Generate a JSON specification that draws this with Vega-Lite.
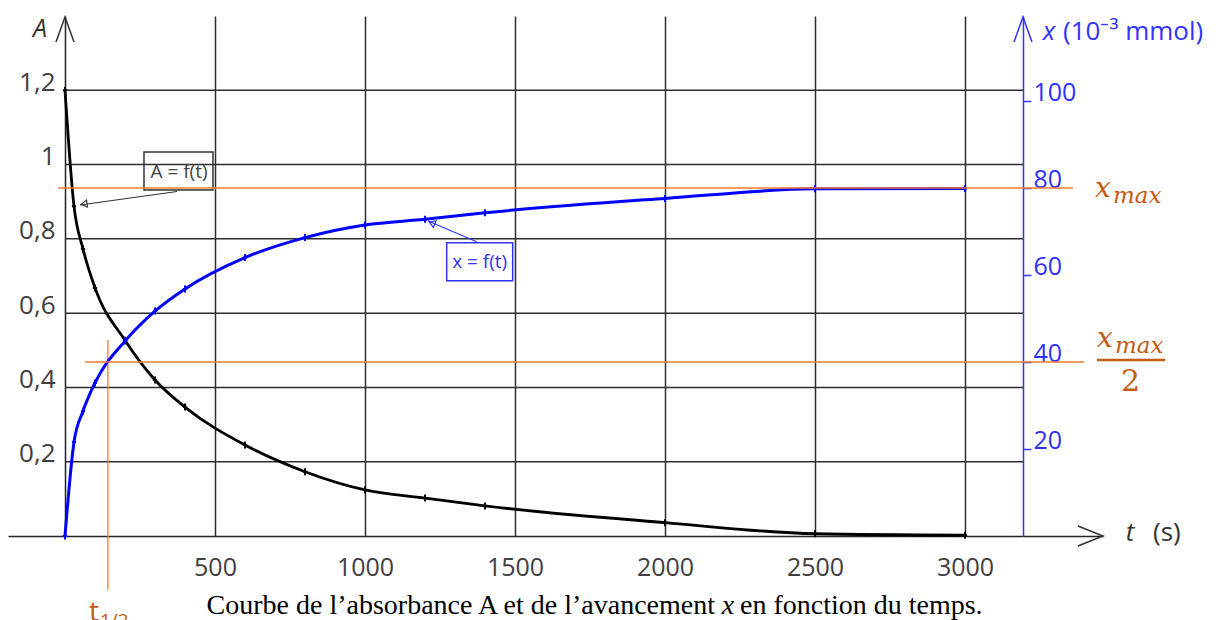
{
  "$schema": "https://vega.github.io/schema/vega-lite/v6.json",
  "autosize": {"type": "none"},
  "padding": {"left": 8, "top": 16, "right": 119, "bottom": 84},
  "width": 1095,
  "height": 520,
  "config": {"view": {"stroke": null}, "background": "white"},
  "data": {"values": [{}]},
  "datasets": {
    "absorbance": [
      {"t": 0, "A": 1.2}, {"t": 30, "A": 0.888}, {"t": 60, "A": 0.773}, {"t": 100, "A": 0.668},
      {"t": 200, "A": 0.527}, {"t": 300, "A": 0.42}, {"t": 400, "A": 0.347}, {"t": 600, "A": 0.245},
      {"t": 800, "A": 0.173}, {"t": 1000, "A": 0.124}, {"t": 1200, "A": 0.102}, {"t": 1400, "A": 0.081},
      {"t": 2000, "A": 0.036}, {"t": 2500, "A": 0.006}, {"t": 3000, "A": 0.002}
    ],
    "avancement": [
      {"t": 0, "X": 0}, {"t": 30, "X": 21.6}, {"t": 60, "X": 28.7}, {"t": 100, "X": 35.2},
      {"t": 200, "X": 44.8}, {"t": 300, "X": 51.7}, {"t": 400, "X": 56.8}, {"t": 600, "X": 64.0},
      {"t": 800, "X": 68.6}, {"t": 1000, "X": 71.5}, {"t": 1200, "X": 72.8}, {"t": 1400, "X": 74.3},
      {"t": 2000, "X": 77.6}, {"t": 2500, "X": 79.8}, {"t": 3000, "X": 79.9}
    ],
    "gridA": [{"A": 0.2}, {"A": 0.4}, {"A": 0.6}, {"A": 0.8}, {"A": 1.0}, {"A": 1.2}]
  },
  "layer": [
    {
      "layer": [
        {
          "data": {"name": "gridA"},
          "mark": {"type": "rule", "color": "#2e2e2e", "strokeWidth": 1.5},
          "encoding": {
            "x": {"datum": 0, "type": "quantitative", "scale": {"domain": [-190, 3460]}},
            "x2": {"datum": 3193.3},
            "y": {"field": "A", "type": "quantitative", "scale": {"domain": [0, 1.4]}}
          }
        },
        {
          "data": {"name": "absorbance"},
          "mark": {"type": "line", "color": "#000000", "strokeWidth": 2.8, "interpolate": "monotone"},
          "encoding": {
            "x": {"field": "t", "type": "quantitative", "scale": {"domain": [-190, 3460]},
              "axis": {"title": null, "orient": "bottom", "values": [500, 1000, 1500, 2000, 2500, 3000], "format": "d",
                "grid": true, "gridColor": "#2e2e2e", "gridWidth": 1.5, "gridOpacity": 1,
                "ticks": false, "tickSize": 0, "domain": true, "domainColor": "#222222", "domainWidth": 1.5,
                "labelFont": "Open Sans", "labelFontSize": 25, "labelColor": "#404040",
                "labelBaseline": "alphabetic", "labelPadding": 39, "labelOverlap": false, "labelFlush": false}},
            "y": {"field": "A", "type": "quantitative", "scale": {"domain": [0, 1.4]},
              "axis": {"title": null, "orient": "left", "offset": -57, "values": [0.2, 0.4, 0.6, 0.8, 1, 1.2],
                "labelExpr": "replace(format(datum.value, '~g'), '.', ',')",
                "grid": false, "ticks": false, "tickSize": 0, "domain": true, "domainColor": "#222222", "domainWidth": 1.5,
                "labelFont": "Open Sans", "labelFontSize": 26, "labelColor": "#404040",
                "labelBaseline": "alphabetic", "labelPadding": 10, "labelOverlap": false}}
          }
        },
        {
          "data": {"name": "absorbance"},
          "mark": {"type": "point", "shape": "M-0.6,0L0.6,0M0,-1L0,1", "size": 49, "color": "#000000", "strokeWidth": 2, "filled": false, "opacity": 1},
          "encoding": {
            "x": {"field": "t", "type": "quantitative", "scale": {"domain": [-190, 3460]}},
            "y": {"field": "A", "type": "quantitative", "scale": {"domain": [0, 1.4]}}
          }
        },
        {
          "mark": {"type": "point", "shape": "M-0.72,1L0,-1L0.72,1", "size": 625, "color": "#333333", "strokeWidth": 1.5, "filled": false, "opacity": 1},
          "encoding": {
            "x": {"datum": 0, "type": "quantitative", "scale": {"domain": [-190, 3460]}},
            "y": {"datum": 1.3637, "type": "quantitative", "scale": {"domain": [0, 1.4]}}
          }
        },
        {
          "mark": {"type": "point", "shape": "M-0.72,1L0,-1L0.72,1", "size": 625, "color": "#3333ff", "strokeWidth": 1.5, "filled": false, "opacity": 1},
          "encoding": {
            "x": {"datum": 3193.3, "type": "quantitative", "scale": {"domain": [-190, 3460]}},
            "y": {"datum": 1.3637, "type": "quantitative", "scale": {"domain": [0, 1.4]}}
          }
        },
        {
          "mark": {"type": "point", "shape": "M-1,-0.8L1,0L-1,0.8", "size": 625, "color": "#333333", "strokeWidth": 1.5, "filled": false, "opacity": 1},
          "encoding": {
            "x": {"datum": 3418.3, "type": "quantitative", "scale": {"domain": [-190, 3460]}},
            "y": {"datum": 0, "type": "quantitative", "scale": {"domain": [0, 1.4]}}
          }
        },
        {
          "mark": {"type": "rule", "color": "#ED7D31", "strokeWidth": 1.3},
          "encoding": {
            "x": {"datum": 143, "type": "quantitative", "scale": {"domain": [-190, 3460]}},
            "y": {"datum": 0.528, "type": "quantitative", "scale": {"domain": [0, 1.4]}},
            "y2": {"datum": -0.145}
          }
        },
        {
          "mark": {"type": "rect", "filled": false, "stroke": "#333333", "strokeWidth": 1.5},
          "encoding": {
            "x": {"datum": 263.3, "type": "quantitative", "scale": {"domain": [-190, 3460]}},
            "x2": {"datum": 493.3},
            "y": {"datum": 1.0339, "type": "quantitative", "scale": {"domain": [0, 1.4]}},
            "y2": {"datum": 0.9315}
          }
        },
        {
          "mark": {"type": "text", "text": "A = f(t)", "font": "Open Sans", "fontSize": 19, "color": "#444444", "align": "center", "baseline": "middle"},
          "encoding": {
            "x": {"datum": 380, "type": "quantitative", "scale": {"domain": [-190, 3460]}},
            "y": {"datum": 0.98, "type": "quantitative", "scale": {"domain": [0, 1.4]}}
          }
        },
        {
          "mark": {"type": "rule", "color": "#333333", "strokeWidth": 1.2},
          "encoding": {
            "x": {"datum": 373.3, "type": "quantitative", "scale": {"domain": [-190, 3460]}},
            "x2": {"datum": 50},
            "y": {"datum": 0.9275, "type": "quantitative", "scale": {"domain": [0, 1.4]}},
            "y2": {"datum": 0.8912}
          }
        },
        {
          "mark": {"type": "point", "shape": "triangle-left", "size": 50, "angle": 352, "color": "#333333", "strokeWidth": 1.2, "filled": false, "opacity": 1},
          "encoding": {
            "x": {"datum": 63.3, "type": "quantitative", "scale": {"domain": [-190, 3460]}},
            "y": {"datum": 0.894, "type": "quantitative", "scale": {"domain": [0, 1.4]}}
          }
        },
        {
          "mark": {"type": "rect", "filled": false, "stroke": "#3333ff", "strokeWidth": 1.5},
          "encoding": {
            "x": {"datum": 1272.3, "type": "quantitative", "scale": {"domain": [-190, 3460]}},
            "x2": {"datum": 1492.3},
            "y": {"datum": 0.7897, "type": "quantitative", "scale": {"domain": [0, 1.4]}},
            "y2": {"datum": 0.6874}
          }
        },
        {
          "mark": {"type": "text", "text": "x = f(t)", "font": "Open Sans", "fontSize": 19, "color": "#3333ff", "align": "center", "baseline": "middle"},
          "encoding": {
            "x": {"datum": 1382.3, "type": "quantitative", "scale": {"domain": [-190, 3460]}},
            "y": {"datum": 0.7377, "type": "quantitative", "scale": {"domain": [0, 1.4]}}
          }
        },
        {
          "mark": {"type": "rule", "color": "#3333ff", "strokeWidth": 1.2},
          "encoding": {
            "x": {"datum": 1372.3, "type": "quantitative", "scale": {"domain": [-190, 3460]}},
            "x2": {"datum": 1210},
            "y": {"datum": 0.7923, "type": "quantitative", "scale": {"domain": [0, 1.4]}},
            "y2": {"datum": 0.848}
          }
        },
        {
          "mark": {"type": "point", "shape": "triangle-left", "size": 50, "angle": 23, "color": "#3333ff", "strokeWidth": 1.2, "filled": false, "opacity": 1},
          "encoding": {
            "x": {"datum": 1223, "type": "quantitative", "scale": {"domain": [-190, 3460]}},
            "y": {"datum": 0.8427, "type": "quantitative", "scale": {"domain": [0, 1.4]}}
          }
        },
        {
          "mark": {"type": "text", "text": "A", "font": "Open Sans", "fontStyle": "italic", "fontSize": 25, "color": "#333333", "align": "center", "baseline": "middle"},
          "encoding": {
            "x": {"datum": -83.3, "type": "quantitative", "scale": {"domain": [-190, 3460]}},
            "y": {"datum": 1.365, "type": "quantitative", "scale": {"domain": [0, 1.4]}}
          }
        },
        {
          "mark": {"type": "text", "text": "t", "font": "Open Sans", "fontStyle": "italic", "fontSize": 26, "color": "#333333", "align": "center", "baseline": "middle"},
          "encoding": {
            "x": {"datum": 3550, "type": "quantitative", "scale": {"domain": [-190, 3460]}},
            "y": {"datum": 0.008, "type": "quantitative", "scale": {"domain": [0, 1.4]}}
          }
        },
        {
          "mark": {"type": "text", "text": "(s)", "font": "Open Sans", "fontSize": 26, "color": "#333333", "align": "left", "baseline": "middle"},
          "encoding": {
            "x": {"datum": 3626.7, "type": "quantitative", "scale": {"domain": [-190, 3460]}},
            "y": {"datum": 0.008, "type": "quantitative", "scale": {"domain": [0, 1.4]}}
          }
        },
        {
          "mark": {"type": "text", "text": "x", "font": "Open Sans", "fontStyle": "italic", "fontSize": 26, "color": "#3333ff", "align": "center", "baseline": "middle"},
          "encoding": {
            "x": {"datum": 3280, "type": "quantitative", "scale": {"domain": [-190, 3460]}},
            "y": {"datum": 1.357, "type": "quantitative", "scale": {"domain": [0, 1.4]}}
          }
        },
        {
          "mark": {"type": "text", "text": "(10⁻³ mmol)", "font": "Open Sans", "fontSize": 26, "color": "#3333ff", "align": "left", "baseline": "middle"},
          "encoding": {
            "x": {"datum": 3326.7, "type": "quantitative", "scale": {"domain": [-190, 3460]}},
            "y": {"datum": 1.357, "type": "quantitative", "scale": {"domain": [0, 1.4]}}
          }
        },
        {
          "mark": {"type": "text", "text": "x", "font": "DejaVu Serif", "fontStyle": "italic", "fontSize": 28, "color": "#C55A11", "align": "left", "baseline": "alphabetic"},
          "encoding": {
            "x": {"datum": 3433.3, "type": "quantitative", "scale": {"domain": [-190, 3460]}},
            "y": {"datum": 0.9127, "type": "quantitative", "scale": {"domain": [0, 1.4]}}
          }
        },
        {
          "mark": {"type": "text", "text": "max", "font": "DejaVu Serif", "fontStyle": "italic", "fontSize": 23, "color": "#C55A11", "align": "left", "baseline": "alphabetic"},
          "encoding": {
            "x": {"datum": 3493.3, "type": "quantitative", "scale": {"domain": [-190, 3460]}},
            "y": {"datum": 0.8966, "type": "quantitative", "scale": {"domain": [0, 1.4]}}
          }
        },
        {
          "mark": {"type": "text", "text": "x", "font": "DejaVu Serif", "fontStyle": "italic", "fontSize": 28, "color": "#C55A11", "align": "left", "baseline": "alphabetic"},
          "encoding": {
            "x": {"datum": 3440, "type": "quantitative", "scale": {"domain": [-190, 3460]}},
            "y": {"datum": 0.5088, "type": "quantitative", "scale": {"domain": [0, 1.4]}}
          }
        },
        {
          "mark": {"type": "text", "text": "max", "font": "DejaVu Serif", "fontStyle": "italic", "fontSize": 23, "color": "#C55A11", "align": "left", "baseline": "alphabetic"},
          "encoding": {
            "x": {"datum": 3500, "type": "quantitative", "scale": {"domain": [-190, 3460]}},
            "y": {"datum": 0.492, "type": "quantitative", "scale": {"domain": [0, 1.4]}}
          }
        },
        {
          "mark": {"type": "rule", "color": "#C55A11", "strokeWidth": 2.5},
          "encoding": {
            "x": {"datum": 3440, "type": "quantitative", "scale": {"domain": [-190, 3460]}},
            "x2": {"datum": 3666.7},
            "y": {"datum": 0.4738, "type": "quantitative", "scale": {"domain": [0, 1.4]}}
          }
        },
        {
          "mark": {"type": "text", "text": "2", "font": "DejaVu Serif", "fontSize": 30, "color": "#C55A11", "align": "center", "baseline": "alphabetic"},
          "encoding": {
            "x": {"datum": 3551.7, "type": "quantitative", "scale": {"domain": [-190, 3460]}},
            "y": {"datum": 0.3904, "type": "quantitative", "scale": {"domain": [0, 1.4]}}
          }
        },
        {
          "mark": {"type": "text", "text": "t", "font": "Open Sans", "fontSize": 28, "color": "#C55A11", "align": "left", "baseline": "alphabetic"},
          "encoding": {
            "x": {"datum": 80, "type": "quantitative", "scale": {"domain": [-190, 3460]}},
            "y": {"datum": -0.2288, "type": "quantitative", "scale": {"domain": [0, 1.4]}}
          }
        },
        {
          "mark": {"type": "text", "text": "1/2", "font": "Open Sans", "fontSize": 19, "color": "#C55A11", "align": "left", "baseline": "alphabetic"},
          "encoding": {
            "x": {"datum": 116.7, "type": "quantitative", "scale": {"domain": [-190, 3460]}},
            "y": {"datum": -0.245, "type": "quantitative", "scale": {"domain": [0, 1.4]}}
          }
        },
        {
          "mark": {"type": "text", "text": "Courbe de l’absorbance A et de l’avancement", "font": "Liberation Serif", "fontSize": 28, "color": "#000000", "align": "right", "baseline": "alphabetic"},
          "encoding": {
            "x": {"datum": 2166.7, "type": "quantitative", "scale": {"domain": [-190, 3460]}},
            "y": {"datum": -0.21, "type": "quantitative", "scale": {"domain": [0, 1.4]}}
          }
        },
        {
          "mark": {"type": "text", "text": "x", "font": "Liberation Serif", "fontStyle": "italic", "fontSize": 28, "color": "#000000", "align": "center", "baseline": "alphabetic"},
          "encoding": {
            "x": {"datum": 2210, "type": "quantitative", "scale": {"domain": [-190, 3460]}},
            "y": {"datum": -0.21, "type": "quantitative", "scale": {"domain": [0, 1.4]}}
          }
        },
        {
          "mark": {"type": "text", "text": "en fonction du temps.", "font": "Liberation Serif", "fontSize": 28, "color": "#000000", "align": "left", "baseline": "alphabetic"},
          "encoding": {
            "x": {"datum": 2250, "type": "quantitative", "scale": {"domain": [-190, 3460]}},
            "y": {"datum": -0.21, "type": "quantitative", "scale": {"domain": [0, 1.4]}}
          }
        }
      ]
    },
    {
      "layer": [
        {
          "data": {"name": "avancement"},
          "mark": {"type": "line", "color": "#0000ff", "strokeWidth": 3, "interpolate": "monotone"},
          "encoding": {
            "x": {"field": "t", "type": "quantitative", "scale": {"domain": [-190, 3460]}},
            "y": {"field": "X", "type": "quantitative", "scale": {"domain": [0, 119.54]},
              "axis": {"title": null, "orient": "right", "offset": -80, "values": [20, 40, 60, 80, 100],
                "grid": false, "ticks": true, "tickSize": 8, "tickColor": "#3333ff", "tickWidth": 1.5,
                "domain": true, "domainColor": "#3333ff", "domainWidth": 1.5,
                "labelFont": "Open Sans", "labelFontSize": 25, "labelColor": "#2f2fff",
                "labelBaseline": "alphabetic", "labelPadding": 2, "labelOverlap": false}}
          }
        },
        {
          "data": {"name": "avancement"},
          "mark": {"type": "point", "shape": "M-0.6,0L0.6,0M0,-1L0,1", "size": 49, "color": "#0000ff", "strokeWidth": 2, "filled": false, "opacity": 1},
          "encoding": {
            "x": {"field": "t", "type": "quantitative", "scale": {"domain": [-190, 3460]}},
            "y": {"field": "X", "type": "quantitative", "scale": {"domain": [0, 119.54]}}
          }
        },
        {
          "mark": {"type": "rule", "color": "#ED7D31", "strokeWidth": 1.3},
          "encoding": {
            "x": {"datum": -23, "type": "quantitative", "scale": {"domain": [-190, 3460]}},
            "x2": {"datum": 3360},
            "y": {"datum": 80, "type": "quantitative", "scale": {"domain": [0, 119.54]}}
          }
        },
        {
          "mark": {"type": "rule", "color": "#ED7D31", "strokeWidth": 1.3},
          "encoding": {
            "x": {"datum": 67, "type": "quantitative", "scale": {"domain": [-190, 3460]}},
            "x2": {"datum": 3397},
            "y": {"datum": 40, "type": "quantitative", "scale": {"domain": [0, 119.54]}}
          }
        }
      ]
    }
  ],
  "resolve": {"scale": {"y": "independent"}}
}
